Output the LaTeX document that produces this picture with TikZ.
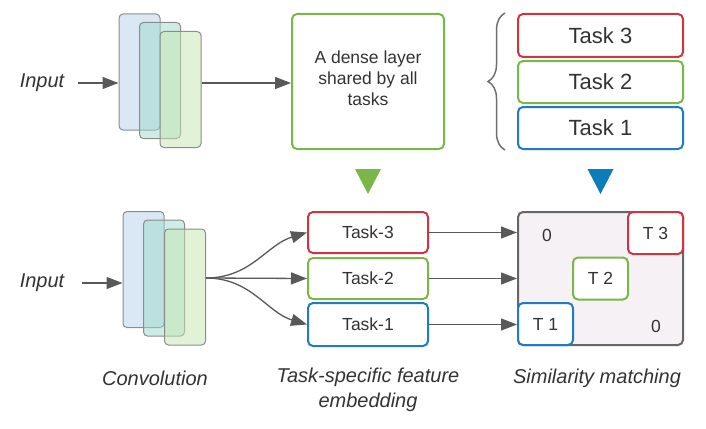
\documentclass[tikz,border=0pt]{standalone}
\usepackage{fontspec}
\setmainfont{Liberation Sans}
\usetikzlibrary{arrows.meta,decorations.pathreplacing}
\definecolor{txt}{HTML}{333333}
\definecolor{tred}{HTML}{D1343F}
\definecolor{tgreen}{HTML}{7AB648}
\definecolor{tblue}{HTML}{1F7CC4}
\definecolor{tri}{HTML}{0C7CBA}
\definecolor{conn}{HTML}{595959}
\definecolor{edge}{HTML}{8C8C8C}
\definecolor{filla}{HTML}{DAE8F5}
\definecolor{fillb}{HTML}{A0D8CC}
\definecolor{fillc}{HTML}{C5E6B0}
\definecolor{matfill}{HTML}{F6F1F5}
\definecolor{matedge}{HTML}{666666}

\begin{document}
\begin{tikzpicture}[x=1pt, y=-1pt, text=txt, font=\fontsize{17.5}{21}\selectfont,
  box/.style={draw, line width=2pt, rounded corners=5pt, fill=white, inner sep=0pt},
  layer/.style={draw=edge, line width=1pt, rounded corners=4pt, inner sep=0pt,
                minimum width=41pt, minimum height=116pt},
  arr/.style={-{Triangle[length=16pt,width=12pt]}, conn, line width=1.3pt},
  lbl/.style={font=\itshape\fontsize{20}{25}\selectfont}]
  \useasboundingbox (0,0) rectangle (706,428);

  % top row
  \node[lbl] (In1) at (42,83) {Input};
  \node[layer, fill=filla] (C1a) at (139.5,72) {};
  \node[layer, fill=fillb, fill opacity=.5] (C1b) at (160,80.5) {};
  \node[layer, fill=fillc, fill opacity=.5] (C1c) at (180.5,89.5) {};
  \node[box, draw=tgreen, minimum width=152pt, minimum height=135pt] (D) at (368,81.5) {};
  \node[align=center] (Dt) at (368,78) {A dense layer\\shared by all\\tasks};

  \draw[arr, shorten <=10pt] (In1.east) -- (In1.east -| C1a.west);
  \draw[arr] (C1c.east |- In1.east) -- (In1.east -| D.west);

  \node[box, draw=tred, minimum width=165pt, minimum height=43pt,
        font=\fontsize{22}{25}\selectfont] (T3) at (600.5,35.5) {Task 3};
  \node[box, draw=tgreen, minimum width=165pt, minimum height=42pt,
        font=\fontsize{22}{25}\selectfont] (T2) at (600.5,82) {Task 2};
  \node[box, draw=tblue, minimum width=165pt, minimum height=42pt,
        font=\fontsize{22}{25}\selectfont] (T1) at (600.5,128) {Task 1};

  % brace round the tasks
  \draw[edge!80!black, line width=1.5pt, decorate, decoration={brace, amplitude=17pt}]
    ([xshift=-12pt]T1.south west) -- ([xshift=-12pt]T3.north west);

  % markers pointing down
  \fill[tgreen] ([xshift=-13pt,yshift=-19pt]D.south) -- ([xshift=13pt,yshift=-19pt]D.south)
    -- ([yshift=-44pt]D.south) -- cycle;
  \fill[tri] ([xshift=-13pt,yshift=-19pt]T1.south) -- ([xshift=13pt,yshift=-19pt]T1.south)
    -- ([yshift=-44pt]T1.south) -- cycle;

  % bottom row
  \node[lbl] (In2) at (42,283) {Input};
  \node[layer, fill=filla] (C2a) at (143.5,269.5) {};
  \node[layer, fill=fillb, fill opacity=.5] (C2b) at (164,278) {};
  \node[layer, fill=fillc, fill opacity=.5] (C2c) at (185,287) {};
  \coordinate (F) at (C2c.east |- C2b.east);

  \draw[arr, shorten <=14pt] (In2.east) -- (In2.east -| C2a.west);

  \node[box, draw=tred, minimum width=120pt, minimum height=41pt] (B3) at (368,232.5) {Task-3};
  \node[box, draw=tgreen, minimum width=120pt, minimum height=41pt] (B2) at (368,278.5) {Task-2};
  \node[box, draw=tblue, minimum width=120pt, minimum height=43pt] (B1) at (368,324.5) {Task-1};

  \draw[arr] (F) .. controls +(45,0) and +(-40,12) .. (B3.west);
  \draw[arr] (F) -- (B2.west);
  \draw[arr] (F) .. controls +(45,0) and +(-40,-12) .. (B1.west);

  % similarity matrix
  \node[draw=matedge, fill=matfill, line width=2pt, rounded corners=5pt, inner sep=0pt,
        minimum width=165pt, minimum height=133pt] (M) at (600.5,278.5) {};
  \node[box, draw=tred, minimum width=55pt, minimum height=42pt, anchor=north east] (M3) at (M.north east) {T 3};
  \node[box, draw=tgreen, minimum width=55pt, minimum height=42pt] (M2) at (M.center) {T 2};
  \node[box, draw=tblue, minimum width=55pt, minimum height=42pt, anchor=south west] (M1) at (M.south west) {T 1};
  \node (Z1) at (547,235) {0};
  \node (Z2) at (656,326) {0};

  \draw[arr] (B3.east) -- (B3.east -| M.west);
  \draw[arr] (B2.east) -- (B2.east -| M.west);
  \draw[arr] (B1.east) -- (B1.east -| M.west);

  % captions
  \node[lbl] (L1) at (155,378) {Convolution};
  \node[lbl, align=center] (L2) at (368,389.5) {Task-specific feature\\embedding};
  \node[lbl] (L3) at (597,378) {Similarity matching};
\end{tikzpicture}
\end{document}
